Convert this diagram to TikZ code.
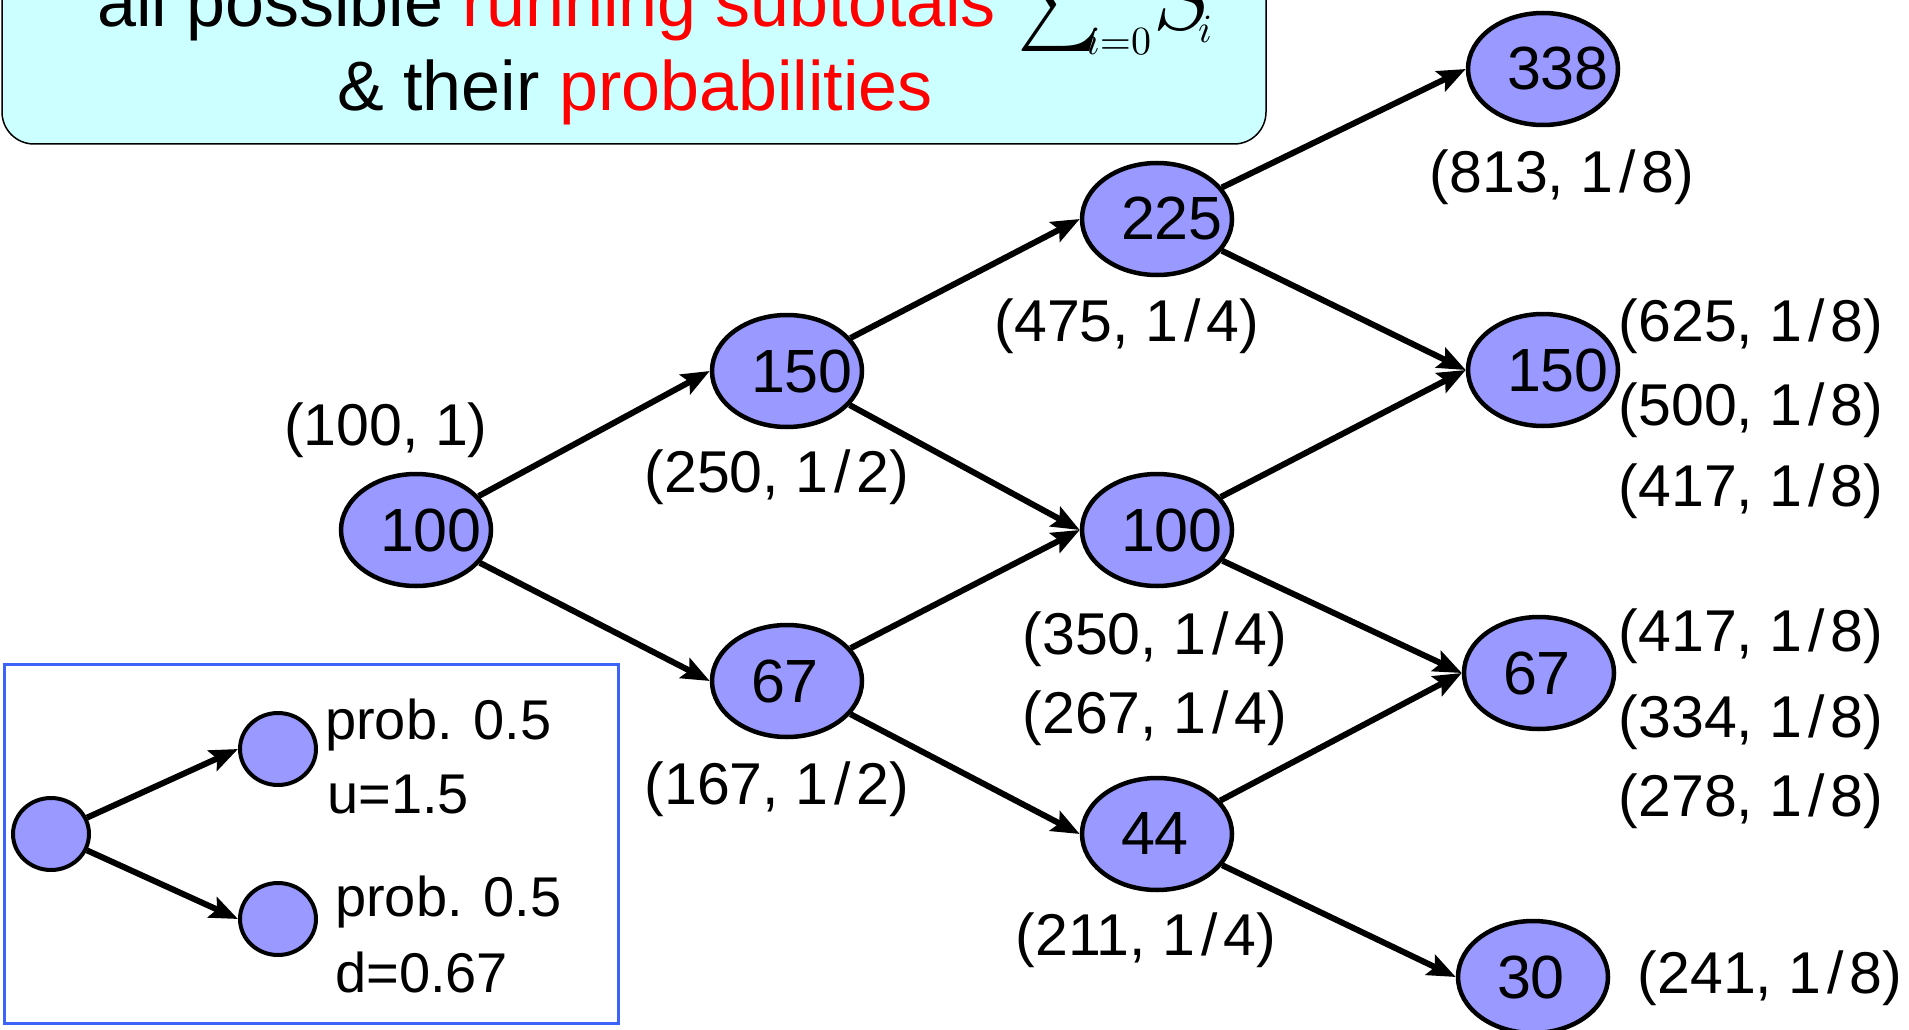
\documentclass[tikz,border=0pt]{standalone}
\usepackage[no-math]{fontspec}
\setmainfont{Liberation Sans}
\usetikzlibrary{arrows.meta,shapes.geometric,positioning}

\definecolor{nodeblue}{RGB}{153,153,255}
\definecolor{titlecyan}{RGB}{204,255,255}
\definecolor{keyblue}{RGB}{60,100,250}
\newcommand{\titlefont}{\fontsize{70}{86}\selectfont}
\newcommand{\numfont}{\fontsize{61}{74}\selectfont}
\newcommand{\lblfont}{\fontsize{59}{74}\selectfont}
\newcommand{\keyfont}{\fontsize{56}{72}\selectfont}
\newcommand{\frc}[2]{#1\kern6pt/\kern6pt#2}

\begin{document}
\begin{tikzpicture}[x=1pt,y=-1pt,>={Stealth[length=28pt,width=22pt,inset=5pt]},
    valnode/.style={draw, ellipse, fill=nodeblue, line width=4.5pt, minimum width=150pt, minimum height=112pt, inner sep=0pt, text width=72pt, align=left, font=\numfont},
    keynode/.style={draw, ellipse, fill=nodeblue, line width=4pt, minimum width=76pt, minimum height=72pt, inner sep=0pt},
    sublbl/.style={font=\lblfont, inner sep=0pt},
    keytxt/.style={font=\keyfont, inner sep=0pt, anchor=base west},
    mathbit/.style={inner sep=0pt, anchor=base west},
    branch/.style={->, line width=6pt}]
        \useasboundingbox (0,0) rectangle (1909,1030);
        \clip (0,0) rectangle (1909,1030);

        % title box, cut off at the top
        \draw[fill=titlecyan, rounded corners=32pt, line width=1.5pt] (2,-80) rectangle (1266,144);
        \node (line1) [anchor=base west, font=\titlefont, inner sep=0pt] at (97,27) {all possible \textcolor{red}{running subtotals}};
        \node (sumsign) [mathbit] at (1017,28) {\scalebox{7.9}[9.3]{$\sum$}};
        \node (sumlow) [mathbit] at (1086,55) {\scalebox{4}{$i{=}0$}};
        \node (sumvar) [mathbit] at (1153,30) {\scalebox{9.2}{$S$}};
        \node (sumidx) [mathbit] at (1198,43) {\scalebox{4}{$i$}};
        \node (line2) [anchor=base, font=\titlefont, inner sep=0pt] at (635,111) {\& their \textcolor{red}{probabilities}};

        % the tree
        \node (root) [valnode] at (416,530) {100};
        \node (up1) [valnode] at (787,371) {150};
        \node (dn1) [valnode] at (787,681) {67};
        \node (uu2) [valnode] at (1157,219) {225};
        \node (ud2) [valnode] at (1157,530) {100};
        \node (dd2) [valnode] at (1157,834) {44};
        \node (uuu3) [valnode] at (1543,69) {338};
        \node (uud3) [valnode] at (1543,370) {150};
        \node (udd3) [valnode] at (1539,673) {67};
        \node (ddd3) [valnode] at (1533,977) {30};

        \draw[branch] (root) -- (up1.west);
        \draw[branch] (root) -- (dn1.west);
        \draw[branch] (up1) -- (uu2.west);
        \draw[branch] (up1) -- (ud2.west);
        \draw[branch] (dn1) -- (ud2.west);
        \draw[branch] (dn1) -- (dd2.west);
        \draw[branch] (uu2) -- (uuu3.west);
        \draw[branch] (uu2) -- (uud3.west);
        \draw[branch] (ud2) -- (uud3.west);
        \draw[branch] (ud2) -- (udd3.west);
        \draw[branch] (dd2) -- (udd3.west);
        \draw[branch] (dd2) -- (ddd3.west);

        % (subtotal, probability) pairs
        \node (s100) [sublbl] at (386,430) {(100, 1)};
        \node (s250) [sublbl] at (777,477) {(250, \frc{1}{2})};
        \node (s167) [sublbl] at (777,789) {(167, \frc{1}{2})};
        \node (s475) [sublbl] at (1127,326) {(475, \frc{1}{4})};
        \node (s350) [sublbl] at (1155,639) {(350, \frc{1}{4})};
        \node (s267) [sublbl] at (1155,718) {(267, \frc{1}{4})};
        \node (s211) [sublbl] at (1146,940) {(211, \frc{1}{4})};
        \node (s813) [sublbl] at (1562,177) {(813, \frc{1}{8})};
        \node (s625) [sublbl] at (1751,326) {(625, \frc{1}{8})};
        \node (s500) [sublbl] at (1751,410) {(500, \frc{1}{8})};
        \node (s417a) [sublbl] at (1751,491) {(417, \frc{1}{8})};
        \node (s417b) [sublbl] at (1751,636) {(417, \frc{1}{8})};
        \node (s334) [sublbl] at (1751,722) {(334, \frc{1}{8})};
        \node (s278) [sublbl] at (1751,801) {(278, \frc{1}{8})};
        \node (s241) [sublbl] at (1770,978) {(241, \frc{1}{8})};

        % legend
        \draw[keyblue, line width=3pt] (4,664) rectangle (618,1023);
        \node (keyroot) [keynode] at (51,834) {};
        \node (keyup) [keynode] at (278,749) {};
        \node (keydn) [keynode] at (278,919) {};
        \draw[branch] (keyroot) -- (keyup.west);
        \draw[branch] (keyroot) -- (keydn.west);
        \node (upprob) [keytxt] at (325,739) {prob. 0.5};
        \node (upfac) [keytxt] at (327,813) {u=1.5};
        \node (dnprob) [keytxt] at (335,916) {prob. 0.5};
        \node (dnfac) [keytxt] at (335,992) {d=0.67};
    \end{tikzpicture}
\end{document}
